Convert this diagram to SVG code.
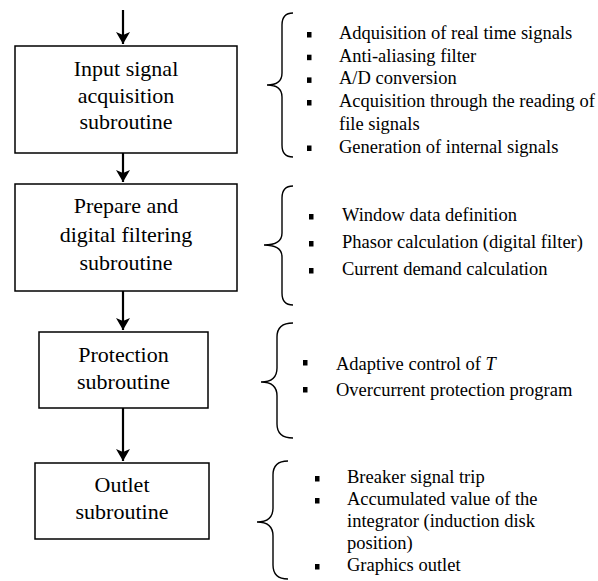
<svg xmlns="http://www.w3.org/2000/svg" width="598" height="581" viewBox="0 0 598 581">
<defs>
<style>
.box{fill:#fff;stroke:#000;stroke-width:1.5}
.bt{font-family:"Liberation Serif","Times New Roman",serif;font-size:22px;fill:#000;text-anchor:middle}
.it{font-family:"Liberation Serif","Times New Roman",serif;font-size:18.5px;fill:#000}
.br{fill:none;stroke:#000;stroke-width:1.4}
.ln{stroke:#000;stroke-width:2.2;fill:none}
.bul{fill:#000}
</style>
<marker id="ah" markerWidth="14" markerHeight="14" refX="12" refY="7" orient="auto" markerUnits="userSpaceOnUse">
<path d="M12,7 L0,0 L3,7 L0,14 Z" fill="#000"/>
</marker>
</defs>
<rect width="598" height="581" fill="#fff"/>
<g id="connectors">
<line class="ln" x1="123" y1="10" x2="123" y2="44" marker-end="url(#ah)"/>
<line class="ln" x1="123" y1="153" x2="123" y2="182" marker-end="url(#ah)"/>
<line class="ln" x1="123" y1="291" x2="123" y2="330" marker-end="url(#ah)"/>
<line class="ln" x1="123" y1="408" x2="123" y2="461" marker-end="url(#ah)"/>
</g>
<g id="node1">
<rect class="box" x="15" y="46" width="222" height="107"/>
<text class="bt" x="126" y="76">Input signal</text>
<text class="bt" x="126" y="102.5">acquisition</text>
<text class="bt" x="126" y="129">subroutine</text>
</g>
<g id="node2">
<rect class="box" x="15" y="184" width="222" height="107"/>
<text class="bt" x="126" y="213">Prepare and</text>
<text class="bt" x="126" y="241.5">digital filtering</text>
<text class="bt" x="126" y="270">subroutine</text>
</g>
<g id="node3">
<rect class="box" x="39" y="332" width="169" height="76"/>
<text class="bt" x="123.5" y="362">Protection</text>
<text class="bt" x="123.5" y="389">subroutine</text>
</g>
<g id="node4">
<rect class="box" x="35" y="463" width="174" height="76"/>
<text class="bt" x="122" y="492">Outlet</text>
<text class="bt" x="122" y="519">subroutine</text>
</g>
<g id="list1">
<path class="br" d="M293,13 Q282,13 282,25 L282,73 Q282,85 267,85 Q282,85 282,97 L282,145 Q282,157 293,157"/>
<rect class="bul" x="307" y="32" width="4.5" height="5.5"/>
<rect class="bul" x="307" y="54.7" width="4.5" height="5.5"/>
<rect class="bul" x="307" y="77.4" width="4.5" height="5.5"/>
<rect class="bul" x="307" y="100" width="4.5" height="5.5"/>
<rect class="bul" x="307" y="145.5" width="4.5" height="5.5"/>
<text class="it" x="339" y="39">Adquisition of real time signals</text>
<text class="it" x="339" y="61.7">Anti-aliasing filter</text>
<text class="it" x="339" y="84.4">A/D conversion</text>
<text class="it" x="339" y="107">Acquisition through the reading of</text>
<text class="it" x="339" y="129.8">file signals</text>
<text class="it" x="339" y="152.5">Generation of internal signals</text>
</g>
<g id="list2">
<path class="br" d="M293,186 Q282,186 282,198 L282,233 Q282,245 264,245 Q282,245 282,257 L282,293 Q282,305 293,305"/>
<rect class="bul" x="309" y="214" width="4.5" height="5.5"/>
<rect class="bul" x="309" y="241" width="4.5" height="5.5"/>
<rect class="bul" x="309" y="268" width="4.5" height="5.5"/>
<text class="it" x="342" y="221">Window data definition</text>
<text class="it" x="342" y="248">Phasor calculation (digital filter)</text>
<text class="it" x="342" y="275">Current demand calculation</text>
</g>
<g id="list3">
<path class="br" d="M293,323 Q277,323 277,337 L277,368 Q277,382 261,382 Q277,382 277,396 L277,424 Q277,438 293,438"/>
<rect class="bul" x="303" y="360" width="4.5" height="5.5"/>
<rect class="bul" x="303" y="387" width="4.5" height="5.5"/>
<text class="it" x="336" y="370">Adaptive control of <tspan font-style="italic">T</tspan></text>
<text class="it" x="336" y="396">Overcurrent protection program</text>
</g>
<g id="list4">
<path class="br" d="M288,461 Q273,461 273,475 L273,508 Q273,522 257,522 Q273,522 273,536 L273,565 Q273,579 288,579"/>
<rect class="bul" x="315" y="476" width="4.5" height="5.5"/>
<rect class="bul" x="315" y="498" width="4.5" height="5.5"/>
<rect class="bul" x="315" y="564" width="4.5" height="5.5"/>
<text class="it" x="347" y="483">Breaker signal trip</text>
<text class="it" x="347" y="505">Accumulated value of the</text>
<text class="it" x="347" y="527">integrator (induction disk</text>
<text class="it" x="347" y="549">position)</text>
<text class="it" x="347" y="571">Graphics outlet</text>
</g>
</svg>
